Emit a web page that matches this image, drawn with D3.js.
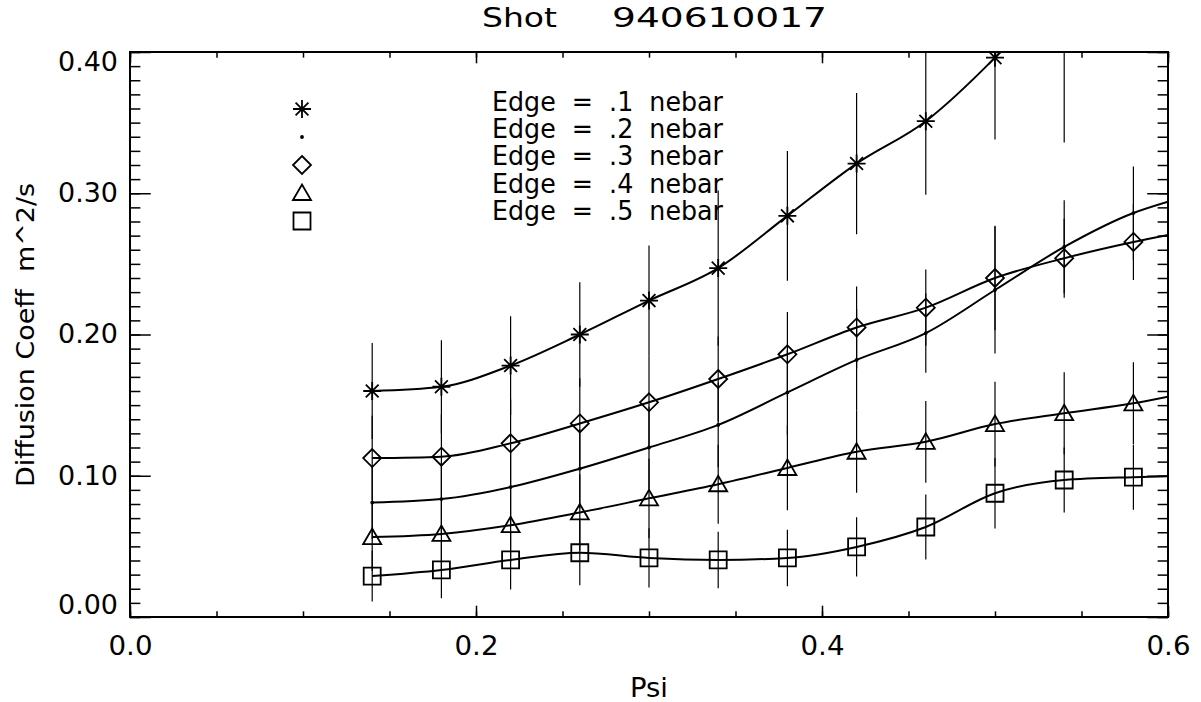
<!DOCTYPE html>
<html><head><meta charset="utf-8">
<script src="https://cdn.jsdelivr.net/npm/d3@7"></script>
<style>
body{margin:0;background:#fff}
svg text{font-family:"DejaVu Sans ExtraLight","DejaVu Sans",sans-serif;fill:#000}
</style>
</head><body>
<svg id="c" width="1201" height="702"></svg>
<script>
// ---- data ----
const psi = [0.14,0.18,0.22,0.26,0.30,0.34,0.38,0.42,0.46,0.50,0.54,0.58];

const edge1 = [0.160,0.163,0.178,0.200,0.224,0.247,0.284,0.321,0.351,0.396,0.450,0.500];
const err1  = [0.034,0.033,0.035,0.037,0.039,0.055,0.046,0.050,0.052,0.058,0.114,0.090];

const edge2 = [0.081,0.0835,0.092,0.105,0.120,0.136,0.159,0.182,0.201,0.2315,0.262,0.286];
const err2  = [0.026,0.026,0.027,0.028,0.029,0.030,0.030,0.036,0.028,0.045,0.033,0.033];

const edge3 = [0.1125,0.1135,0.123,0.137,0.152,0.1685,0.186,0.205,0.219,0.240,0.254,0.2655];
const err3  = [0.030,0.030,0.031,0.032,0.033,0.030,0.030,0.029,0.027,0.037,0.028,0.027];

const edge4 = [0.0566,0.0588,0.065,0.074,0.084,0.094,0.1055,0.117,0.124,0.1366,0.1443,0.1513];
const err4  = [0.024,0.025,0.026,0.027,0.028,0.028,0.030,0.029,0.029,0.030,0.029,0.029];

const edge5 = [0.029,0.0333,0.0404,0.0455,0.0418,0.0404,0.0418,0.0496,0.0637,0.0876,0.097,0.099];
const err5  = [0.018,0.020,0.021,0.023,0.021,0.020,0.020,0.021,0.023,0.025,0.023,0.023];

// curve values where the lines meet the right edge (psi = 0.60)
const tailPsi = 0.60;
const tailValues = [null, 0.294, 0.2705, 0.156, 0.0996];

const seriesLabels = ["Edge = .1 nebar","Edge = .2 nebar","Edge = .3 nebar","Edge = .4 nebar","Edge = .5 nebar"];
const seriesSymbols = ["asterisk","dot","diamond","triangle","square"];

const xTicks = [0.0,0.2,0.4,0.6];
const xTickLabels = ["0.0","0.2","0.4","0.6"];
const yTicks = [0.0,0.1,0.2,0.3,0.4];
const yTickLabels = ["0.00","0.10","0.20","0.30","0.40"];

const titleWord = "Shot";
const titleNumber = "940610017";
const xTitle = "Psi";
const yTitle = "Diffusion Coeff  m^2/s";

// ---- layout ----
const L=130, R=1168, T=52, B=617;
const x = d3.scaleLinear().domain([0,0.6]).range([L,R]);
const y = d3.scaleLinear().domain([0,0.4]).range([B,T]);
const svg = d3.select("#c");
const FONT = '"DejaVu Sans ExtraLight","DejaVu Sans",sans-serif';

svg.append("rect").attr("width",1201).attr("height",702).attr("fill","#fff");
svg.append("defs").append("clipPath").attr("id","clip")
  .append("rect").attr("x",L).attr("y",T).attr("width",R-L).attr("height",B-T);

const xMinor = d3.range(0,13).map(i=>i*0.05);
const yMinor = d3.range(0,41).map(i=>i*0.01);
const xLen = 0.02*(B-T), yLen = 0.02*(R-L);

function styleAxis(g){
  g.select(".domain").remove();
  g.selectAll("line").attr("stroke","#000").attr("stroke-width",1.5);
  g.attr("font-family",FONT).attr("font-size",26);
}
// bottom
svg.append("g").attr("transform",`translate(0,${B})`)
  .call(d3.axisBottom(x).tickValues(xMinor).tickSize(-xLen/2).tickFormat("")).call(styleAxis);
const gb = svg.append("g").attr("transform",`translate(0,${B})`)
  .call(d3.axisBottom(x).tickValues(xTicks).tickSize(-xLen).tickPadding(20)
        .tickFormat((d,i)=>xTickLabels[i])).call(styleAxis);
gb.selectAll("text").attr("textLength",44).attr("lengthAdjust","spacingAndGlyphs");
// top
svg.append("g").attr("transform",`translate(0,${T})`)
  .call(d3.axisTop(x).tickValues(xMinor).tickSize(-xLen/2).tickFormat("")).call(styleAxis);
svg.append("g").attr("transform",`translate(0,${T})`)
  .call(d3.axisTop(x).tickValues(xTicks).tickSize(-xLen).tickFormat("")).call(styleAxis);
// left
svg.append("g").attr("transform",`translate(${L},0)`)
  .call(d3.axisLeft(y).tickValues(yMinor).tickSize(-yLen/2).tickFormat("")).call(styleAxis);
const gl = svg.append("g").attr("transform",`translate(${L},0)`)
  .call(d3.axisLeft(y).tickValues(yTicks).tickSize(-yLen).tickPadding(12)
        .tickFormat((d,i)=>yTickLabels[i])).call(styleAxis);
gl.selectAll("text").attr("y", d => Math.min(Math.max(y(d), T+10), B-12) - y(d))
  .attr("textLength",60).attr("lengthAdjust","spacingAndGlyphs");
// right
svg.append("g").attr("transform",`translate(${R},0)`)
  .call(d3.axisRight(y).tickValues(yMinor).tickSize(-yLen/2).tickFormat("")).call(styleAxis);
svg.append("g").attr("transform",`translate(${R},0)`)
  .call(d3.axisRight(y).tickValues(yTicks).tickSize(-yLen).tickFormat("")).call(styleAxis);

// frame
svg.append("rect").attr("x",L).attr("y",T).attr("width",R-L).attr("height",B-T)
  .attr("fill","none").attr("stroke","#000").attr("stroke-width",2);

// ---- symbols ----
const symbolPath = {
  asterisk: "M-9,0H9M0,-9V9M-6.4,-6.4L6.4,6.4M-6.4,6.4L6.4,-6.4",
  diamond: "M0,-9L9,0L0,9L-9,0Z",
  triangle: "M-9,7L0,-8.5L9,7Z",
  square: "M-8.5,-8.5H8.5V8.5H-8.5Z",
  dot: "M-1,0a1,1 0 1,0 2,0a1,1 0 1,0 -2,0"
};

const values = [edge1,edge2,edge3,edge4,edge5];
const errors = [err1,err2,err3,err4,err5];

const plot = svg.append("g").attr("clip-path","url(#clip)");
const line = d3.line().x(d=>x(d[0])).y(d=>y(d[1])).curve(d3.curveMonotoneX);

values.forEach((vals,s)=>{
  const pts = psi.map((p,i)=>[p,vals[i]]);
  if (tailValues[s] !== null) pts.push([tailPsi, tailValues[s]]);
  // error bars
  plot.append("g").selectAll("line").data(psi.map((p,i)=>({p, v:vals[i], e:errors[s][i]})))
    .join("line")
    .attr("x1",d=>x(d.p)).attr("x2",d=>x(d.p))
    .attr("y1",d=>y(d.v-d.e)).attr("y2",d=>y(d.v+d.e))
    .attr("stroke","#000").attr("stroke-width",1.2);
  // curve
  plot.append("path").datum(pts).attr("d",line)
    .attr("fill","none").attr("stroke","#000").attr("stroke-width",2);
  // markers
  plot.append("g").selectAll("path").data(psi.map((p,i)=>[p,vals[i]]))
    .join("path")
    .attr("transform",d=>`translate(${x(d[0])},${y(d[1])})`)
    .attr("d",symbolPath[seriesSymbols[s]])
    .attr("fill", seriesSymbols[s]==="dot" ? "#000" : "none")
    .attr("stroke","#000").attr("stroke-width",1.8);
});

// ---- legend ----
const leg = svg.append("g");
seriesLabels.forEach((lab,i)=>{
  leg.append("path").attr("transform",`translate(302,${109+i*28})`)
    .attr("d",symbolPath[seriesSymbols[i]])
    .attr("fill", seriesSymbols[i]==="dot" ? "#000" : "none")
    .attr("stroke","#000").attr("stroke-width",1.8);
  leg.append("text").attr("x",492).attr("y",111+i*27.2)
    .attr("font-size",26).attr("textLength",231).attr("lengthAdjust","spacingAndGlyphs")
    .attr("xml:space","preserve").text(lab.replace(/ /g,"  "));
});

// ---- titles ----
svg.append("text").attr("x",482).attr("y",27).attr("font-size",27)
  .attr("textLength",75).attr("lengthAdjust","spacingAndGlyphs").text(titleWord);
svg.append("text").attr("x",612).attr("y",27).attr("font-size",27)
  .attr("textLength",215).attr("lengthAdjust","spacingAndGlyphs").text(titleNumber);

svg.append("text").attr("x",(L+R)/2).attr("y",697).attr("text-anchor","middle")
  .attr("font-size",26).attr("textLength",38).attr("lengthAdjust","spacingAndGlyphs").text(xTitle);

svg.append("text").attr("transform",`translate(34,335) rotate(-90)`)
  .attr("text-anchor","middle").attr("font-size",25)
  .attr("textLength",304).attr("lengthAdjust","spacingAndGlyphs")
  .attr("xml:space","preserve").text(yTitle);
</script>
</body></html>
